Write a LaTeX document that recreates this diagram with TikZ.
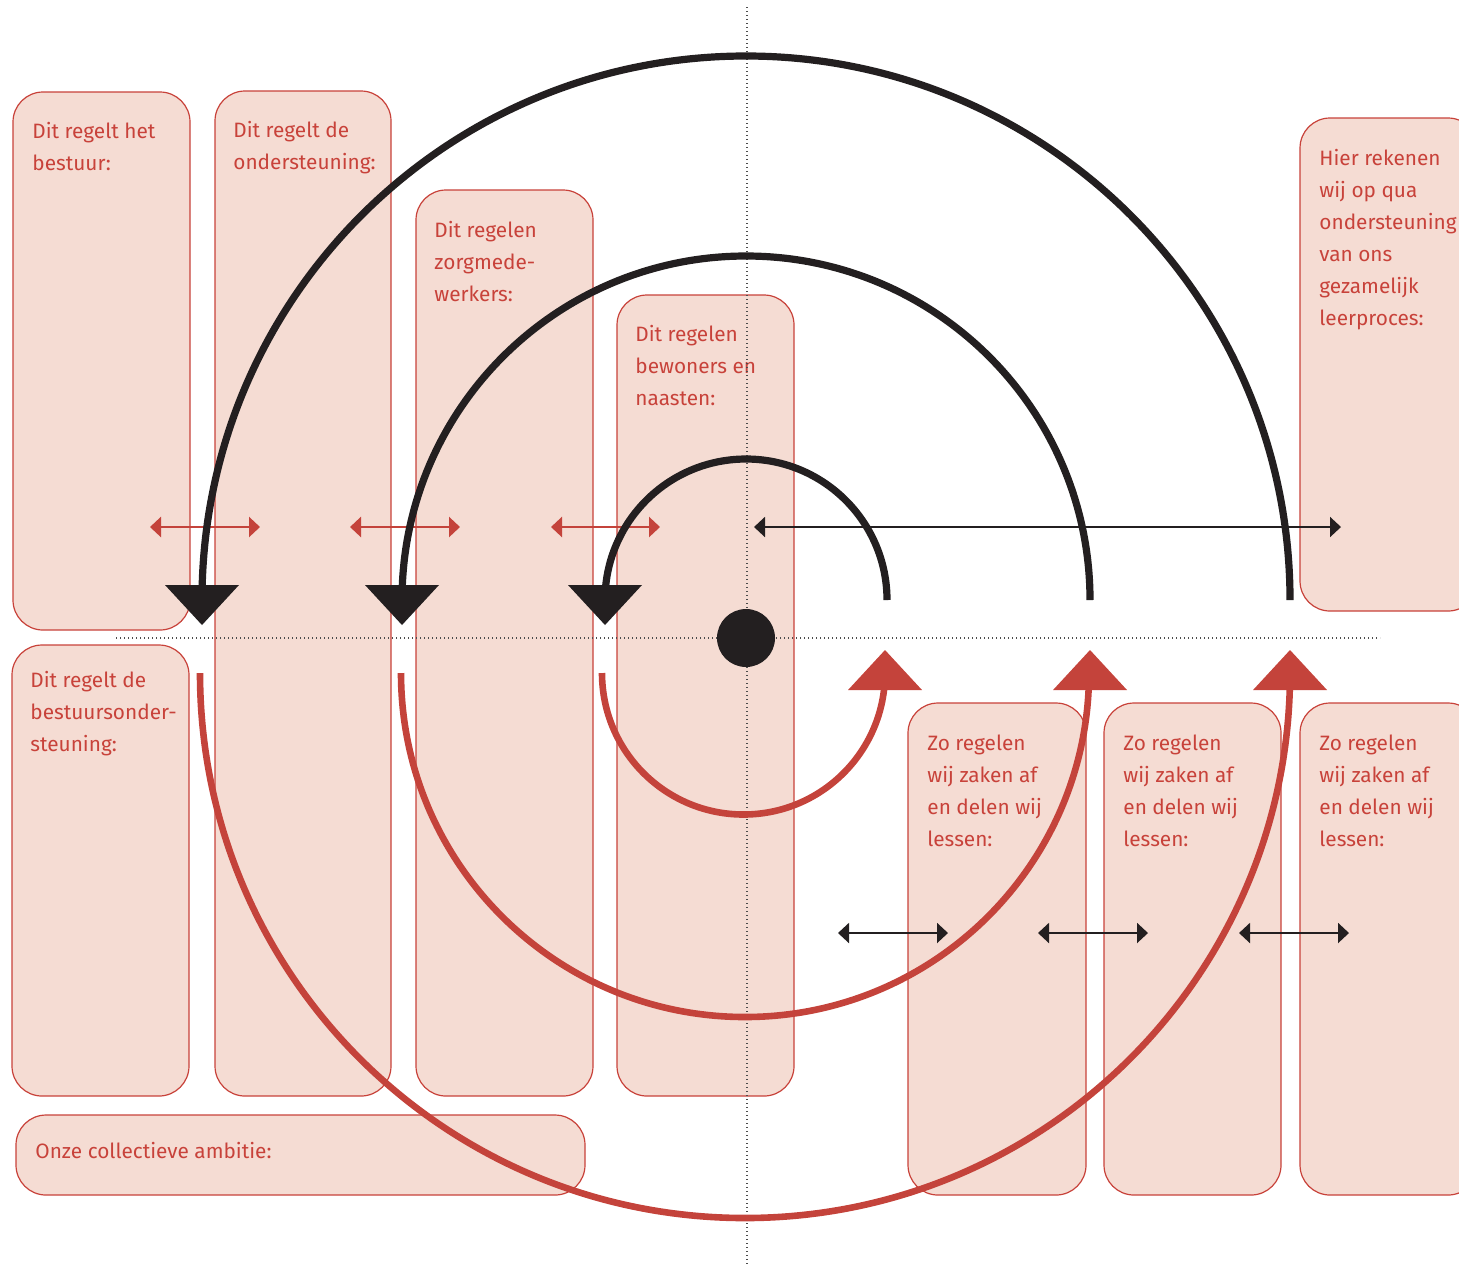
\documentclass[tikz,border=0pt]{standalone}
\usepackage{fontspec}
\setmainfont{Fira Sans}
\usetikzlibrary{arrows.meta}
\definecolor{vakrand}{RGB}{200,66,58}
\definecolor{vakvul}{RGB}{245,220,211}
\definecolor{boogrood}{RGB}{196,67,59}
\definecolor{boogzwart}{RGB}{35,31,32}
\begin{document}
\begin{tikzpicture}[x=0.5pt,y=0.5pt,yscale=-1,xscale=1,
    vak/.style={draw=vakrand,fill=vakvul,line width=0.6pt,rounded corners=15pt},
    tekst/.style={anchor=north west,inner sep=0pt,align=left,text=vakrand,font=\fontsize{10.4}{16}\selectfont},
    hulplijn/.style={draw=black!70,line width=0.6pt,dash pattern={on 0.6pt off 1.4pt}},
    boog/.style={draw=boogzwart,line width=3.6pt},
    rodeboog/.style={draw=boogrood,line width=3.3pt},
    rodepijl/.style={draw=boogrood,line width=1.2pt,{Triangle[width=10pt,length=5.5pt]}-{Triangle[width=10pt,length=5.5pt]}},
    zwartepijl/.style={draw=boogzwart,line width=1pt,{Triangle[width=10pt,length=5.5pt]}-{Triangle[width=10pt,length=5.5pt]}}]
\useasboundingbox (0,0) rectangle (1459,1265);
% vakken
\draw [vak] (13,92) rectangle (190,630);
\draw [vak] (215,91) rectangle (391,1096);
\draw [vak] (416,190) rectangle (593,1096);
\draw [vak] (617,295) rectangle (794,1096);
\draw [vak] (12,645) rectangle (189,1096);
\draw [vak] (16,1115) rectangle (585,1195);
\draw [vak] (1300,118) rectangle (1478,611);
\draw [vak] (908,703) rectangle (1086,1195);
\draw [vak] (1104,703) rectangle (1281,1195);
\draw [vak] (1300,703) rectangle (1478,1195);
% teksten
\node (bestuur) [tekst] at (32,122) {Dit regelt het\\bestuur:};
\node (ondersteuning) [tekst] at (233,121) {Dit regelt de\\ondersteuning:};
\node (zorg) [tekst] at (434,221) {Dit regelen\\zorgmede-\\werkers:};
\node (bewoners) [tekst] at (635,325) {Dit regelen\\bewoners en\\naasten:};
\node (bestondst) [tekst] at (30,671) {Dit regelt de\\bestuursonder-\\steuning:};
\node (ambitie) [tekst] at (35,1142) {Onze collectieve ambitie:};
\node (rekenen) [tekst] at (1319,149) {Hier rekenen\\wij op qua\\ondersteuning\\van ons\\gezamelijk\\leerproces:};
\node (lessen1) [tekst] at (927,734) {Zo regelen\\wij zaken af\\en delen wij\\lessen:};
\node (lessen2) [tekst] at (1123,734) {Zo regelen\\wij zaken af\\en delen wij\\lessen:};
\node (lessen3) [tekst] at (1319,734) {Zo regelen\\wij zaken af\\en delen wij\\lessen:};
% assen
\draw [hulplijn] (747,7) -- (747,1265);
\draw [hulplijn] (116,638) -- (1380,638);
% pijltjes
\draw [rodepijl] (150,527) -- (260,527);
\draw [rodepijl] (350,527) -- (460,527);
\draw [rodepijl] (551,527) -- (660,527);
\draw [zwartepijl] (754,527) -- (1341,527);
\draw [zwartepijl] (838,933) -- (948,933);
\draw [zwartepijl] (1038,933) -- (1148,933);
\draw [zwartepijl] (1239,933) -- (1349,933);
% bogen
\draw [boog] (202,600) arc (180:360:544);
\draw [boog] (402,600) arc (180:360:344);
\draw [boog] (605,600) arc (180:360:141);
\draw [rodeboog] (200,673) arc (180:0:545);
\draw [rodeboog] (401,673) arc (180:0:344);
\draw [rodeboog] (602,673) arc (180:0:141.5);
\fill [boogzwart] (165,585) -- (239,585) -- (202,625) -- cycle;
\fill [boogzwart] (365,585) -- (439,585) -- (402,625) -- cycle;
\fill [boogzwart] (568,585) -- (642,585) -- (605,625) -- cycle;
\fill [boogrood] (848,690) -- (922,690) -- (885,650) -- cycle;
\fill [boogrood] (1053,690) -- (1127,690) -- (1090,650) -- cycle;
\fill [boogrood] (1253,690) -- (1327,690) -- (1290,650) -- cycle;
\node (midden) [circle,fill=boogzwart,minimum size=29pt,inner sep=0pt] at (746,638) {};
\end{tikzpicture}
\end{document}
